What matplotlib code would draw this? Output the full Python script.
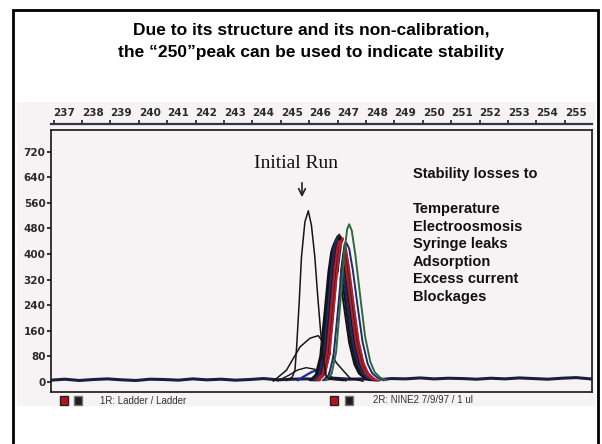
import numpy as np
import matplotlib
matplotlib.use("Agg")
import matplotlib.pyplot as plt
from matplotlib.patches import Rectangle

W, H = 602, 444

# ---- data ----
size_ticks = list(range(237, 256))
rfu_ticks = list(range(0, 721, 80))

# baseline noise (all runs overlapping)
base_x = np.arange(236.9, 256.01, 0.5)
base_y = [6, 9, 5, 8, 10, 7, 5, 9, 8, 6, 10, 7, 9, 6, 8, 11, 7, 9, 10, 8,
          12, 9, 10, 7, 11, 10, 13, 10, 12, 11, 9, 12, 10, 13, 11, 9, 12, 14, 10]

# the initial run peak
init_x = [245.2, 245.4, 245.5, 245.56, 245.65, 245.73, 245.85, 245.97, 246.08,
          246.2, 246.3, 246.4, 246.5, 246.6, 246.8, 247.2]
init_y = [5, 15, 37, 110, 250, 391, 500, 535, 490, 391, 270, 162, 70, 17, 8, 5]

# broad degraded humps
hump1_x = [244.74, 245.2, 245.68, 246.03, 246.32, 246.62, 246.97, 247.44, 247.9]
hump1_y = [3, 37, 110, 137, 145, 110, 59, 12, 3]
hump2_x = [244.9, 245.3, 245.6, 245.9, 246.2, 246.5, 246.9, 247.3]
hump2_y = [4, 22, 38, 45, 40, 28, 12, 4]

# small blue shoulder in front of the cluster
blue_x = [245.6, 245.9, 246.1, 246.25, 246.4, 246.55, 246.7]
blue_y = [6, 22, 32, 36, 28, 22, 30]

# shape of a later-run peak (offset from apex, fraction of apex height)
prof_dx = [-0.82, -0.62, -0.46, -0.32, -0.17, -0.07, 0, 0.09, 0.22, 0.4, 0.56,
           0.74, 0.9, 1.1, 1.3]
prof_f = [0.0, 0.04, 0.18, 0.48, 0.82, 0.97, 1.0, 0.96, 0.8, 0.52, 0.28,
          0.12, 0.05, 0.015, 0.0]

# later runs: apex position, apex height, colour
run_pos = [246.85, 246.9, 246.95, 247.0, 247.03, 247.06, 247.1, 247.13, 247.16,
           246.97, 247.08, 247.18, 247.26, 247.32, 247.41]
run_height = [415, 430, 440, 450, 445, 455, 448, 440, 430,
              440, 435, 444, 440, 428, 487]
run_color = ["#111111", "#151515", "#111111", "#1a1a1a", "#111111", "#222222",
             "#111111", "#1a1a1a", "#2a3a2a",
             "#1c2a70", "#c0192b", "#c0192b", "white", "#1c2a70", "#2d6b3a"]

title_lines = ["Due to its structure and its non-calibration,",
               "the \u201c250\u201dpeak can be used to indicate stability"]
losses = ["Stability losses to", "", "Temperature", "Electroosmosis",
          "Syringe leaks", "Adsorption", "Excess current", "Blockages"]


def fx(px):
    return px / W


def fy(py):
    return 1 - py / H


fig = plt.figure(figsize=(W / 100, H / 100), dpi=100)
fig.patch.set_facecolor("white")

scan_bg = "#f7f3f5"
# scanned picture area (behind the axes)
fig.patches.append(Rectangle((fx(17), fy(406)), fx(595) - fx(17), fy(102) - fy(406),
                             transform=fig.transFigure, facecolor=scan_bg,
                             edgecolor="none", zorder=-5))
# slide frame
fig.patches.append(Rectangle((fx(13), fy(447)), fx(598) - fx(13), fy(10) - fy(447),
                             transform=fig.transFigure, facecolor="none",
                             edgecolor="black", lw=2, zorder=5, clip_on=False))

ax = fig.add_axes([fx(51), fy(392), fx(592) - fx(51), fy(130) - fy(392)])
ax.set_facecolor(scan_bg)
ax.set_xlim(236.91, 255.96)
ax.set_ylim(-31, 787.5)
for s in ax.spines.values():
    s.set_linewidth(1.2)
    s.set_color("#151515")
ax.set_xticks([])
ax.set_yticks(rfu_ticks)
ax.set_yticklabels([str(v) for v in rfu_ticks], fontsize=7.5, fontweight="bold",
                   color="#2a2a2a")
ax.tick_params(axis="y", length=3, width=1.2, pad=1, color="#151515")

# traces
ax.plot(base_x, base_y, color="#1a1f40", lw=2.2, zorder=2)
ax.plot(hump1_x, hump1_y, color="#151515", lw=1.1, zorder=3)
ax.plot(hump2_x, hump2_y, color="#151515", lw=1.0, zorder=3)
ax.plot(blue_x, blue_y, color="#1c2a9a", lw=1.6, zorder=3)
for pos, hgt, col in zip(run_pos, run_height, run_color):
    xs = [pos + d for d in prof_dx]
    ys = [hgt * f + 6 for f in prof_f]
    ax.plot(xs, ys, color=col, lw=1.4 if col != "white" else 1.0, zorder=4)
ax.plot(init_x, init_y, color="#151515", lw=1.1, zorder=5)

# top size axis
axt = fig.add_axes([fx(51), fy(124), fx(592) - fx(51), 0.0001])
axt.set_xlim(236.91, 255.96)
axt.set_yticks([])
for k in ["left", "right", "top"]:
    axt.spines[k].set_visible(False)
axt.spines["bottom"].set_linewidth(1.6)
axt.spines["bottom"].set_color("#303545")
axt.patch.set_alpha(0)
axt.set_xticks(size_ticks)
axt.set_xticklabels([str(v) for v in size_ticks], fontsize=7.5,
                    fontweight="bold", color="#2a2a2a")
axt.tick_params(axis="x", direction="in", length=3, width=1.2, bottom=True,
                top=False, labelbottom=False, labeltop=True, pad=4,
                color="#202020")
for lbl in axt.get_xticklabels():
    lbl.set_ha("left")

# annotations
fig.text(fx(296), fy(163), "Initial Run", family="Liberation Serif",
         fontsize=14, ha="center", va="center", color="#111111")
ax.annotate("", xy=(fx(302), fy(200)), xytext=(fx(302), fy(180)),
            xycoords=fig.transFigure, textcoords=fig.transFigure,
            arrowprops=dict(arrowstyle="->", lw=1.2, color="#222222",
                            mutation_scale=12))
fig.text(fx(413), fy(167), "\n".join(losses), family="Liberation Sans",
         fontweight="bold", fontsize=10.5, ha="left", va="top",
         linespacing=1.32, color="#111111")

fig.text(fx(311), fy(30), title_lines[0], family="Liberation Sans",
         fontweight="bold", fontsize=12.5, ha="center", va="center")
fig.text(fx(311), fy(52), title_lines[1], family="Liberation Sans",
         fontweight="bold", fontsize=12.5, ha="center", va="center")

# run legend under the trace
for x0, col, edge in [(60, "#b5141f", "#222222"), (74, "#1e1e1e", "#777777"),
                      (330, "#b5141f", "#222222"), (345, "#1e1e1e", "#777777")]:
    fig.patches.append(Rectangle((fx(x0), fy(405)), fx(8), fy(396) - fy(405),
                                 transform=fig.transFigure, facecolor=col,
                                 edgecolor=edge, lw=1, zorder=3))
fig.text(fx(100), fy(401), "1R: Ladder / Ladder", fontsize=7,
         color="#333333", va="center", family="Liberation Sans")
fig.text(fx(373), fy(400), "2R: NINE2 7/9/97 / 1 ul", fontsize=7,
         color="#333333", va="center", family="Liberation Sans")

fig.savefig("out.png", dpi=100)
